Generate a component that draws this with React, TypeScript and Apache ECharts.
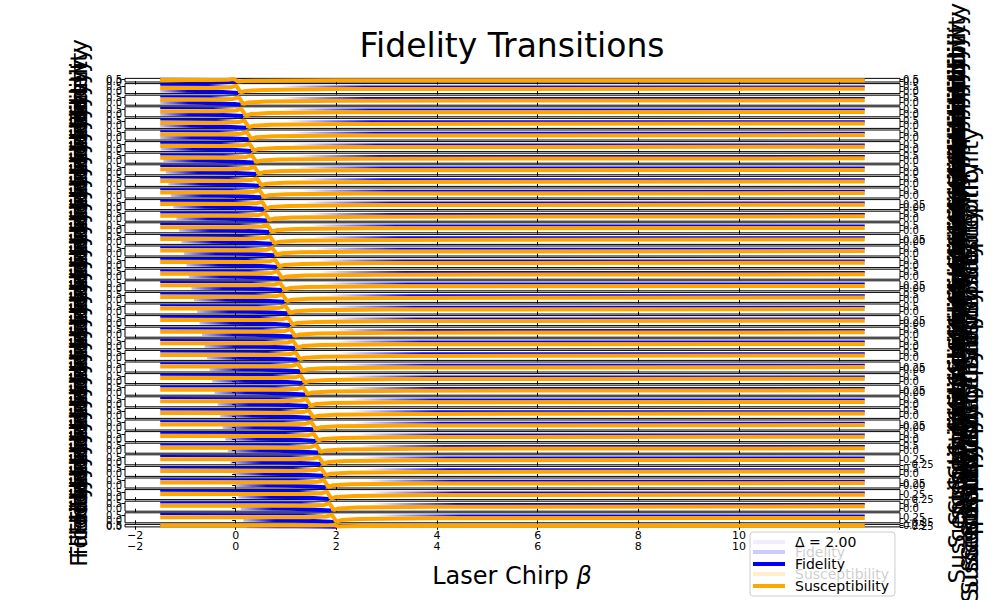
import { useEffect, useRef } from 'react';
import * as echarts from 'echarts';

const FONT = 'DejaVu Sans';

// x axis
const betaStart = -1.5;
const betaEnd = 12.5;
const xTicks = [-2, 0, 2, 4, 6, 8, 10, 12];
const xLabels = [-2, 0, 2, 4, 6, 8, 10];

// y ticks
const leftTicks = [0, 0.5];
const rightTickSets: Record<string, number[]> = {
  a: [0, 0.5],
  b: [0, 0.25],
  c: [-0.25, 0.25],
};

// where the susceptibility dip sits in every panel (top to bottom)
const transitionBeta = [
  0.0, 0.05, 0.1, 0.15, 0.21, 0.26, 0.31, 0.36, 0.41, 0.46,
  0.51, 0.56, 0.62, 0.67, 0.72, 0.77, 0.82, 0.87, 0.92, 0.97,
  1.03, 1.08, 1.13, 1.18, 1.23, 1.28, 1.33, 1.38, 1.44, 1.49,
  1.54, 1.59, 1.64, 1.69, 1.74, 1.79, 1.85, 1.9, 1.95, 2.0,
];

// tick set used on the right axis of each panel
const rightKind = [
  'a', 'a', 'a', 'a', 'a', 'a', 'a', 'a', 'a', 'a',
  'a', 'b', 'a', 'a', 'b', 'a', 'a', 'a', 'b', 'a',
  'a', 'b', 'a', 'a', 'a', 'b', 'a', 'b', 'a', 'a',
  'b', 'a', 'a', 'c', 'a', 'b', 'c', 'a', 'c', 'c',
];

// curve shapes, as offsets from the dip and values
const topOffsets = [-99, -0.3, 0.6, 99];
const topValues = [0.63, 0.6, 0.47, 0.47];
const lowOffsets = [-1.8, -0.8, -0.3, 0];
const lowValues = [0.06, 0.0, -0.1, -0.18];
const susOffsets = [-99, -0.5, -0.15, -0.04, 0.05, 0.15, 0.5, 2.0, 99];
const susValues = [0.3, 0.3, 0.38, 0.55, -0.12, 0.02, 0.12, 0.2, 0.24];

const legendNames: Record<string, string> = {
  delta: 'Δ = 2.00',
  fid: 'Fidelity',
  sus: 'Susceptibility',
};

const clampBeta = (b: number) => Math.min(betaEnd, Math.max(betaStart, b));
const shape = (bc: number, offs: number[], vals: number[]) =>
  offs.map((o, k) => [clampBeta(bc + o), vals[k]]);

const minus = (v: number, d: number) =>
  (v < 0 ? '\u2212' : '') + Math.abs(v).toFixed(d);

export default function App() {
  const ref = useRef<HTMLDivElement>(null);

  useEffect(() => {
    if (!ref.current) return;
    const chart = echarts.init(ref.current, undefined, { renderer: 'svg' });

    const n = transitionBeta.length;
    const span = betaEnd - betaStart;
    const frac = (b: number) => Math.min(1, Math.max(0, (b - betaStart) / span));
    const blank = 'rgba(0,0,255,0)';
    const grids: any[] = [];
    const xAxes: any[] = [];
    const yAxes: any[] = [];
    const series: any[] = [];

    // one y axis per tick, so that the crowded labels are all kept
    const yAxisFor = (i: number, side: string, tick: number, digits: number, name?: string, gap?: number) => ({
      gridIndex: i,
      type: 'value',
      position: side,
      min: -0.25,
      max: 0.75,
      axisLine: { show: false },
      axisTick: { show: true, length: 3.5, customValues: [tick], lineStyle: { color: '#000' } },
      axisLabel: {
        customValues: [tick],
        margin: 3,
        fontSize: 10,
        fontFamily: FONT,
        color: '#000',
        formatter: (v: number) => minus(v, digits),
      },
      splitLine: { show: false },
      name: name ?? '',
      nameLocation: 'middle',
      nameRotate: 90,
      nameGap: gap ?? 0,
      nameTextStyle: { fontSize: 23, fontFamily: FONT, color: '#000' },
    });

    transitionBeta.forEach((bc, i) => {
      const last = i === n - 1;
      grids.push({
        left: 125,
        right: 100,
        top: 72 + i * 11.6,
        height: 10,
        show: true,
        borderColor: '#000',
        borderWidth: 1,
        backgroundColor: '#fff',
      });
      xAxes.push({
        gridIndex: i,
        type: 'value',
        position: 'bottom',
        min: -2.2,
        max: 13.2,
        axisLine: { show: false },
        axisTick: { show: true, length: 3.5, customValues: xTicks, lineStyle: { color: '#000' } },
        axisLabel: {
          show: last,
          customValues: xLabels,
          margin: 3,
          fontSize: 11,
          fontFamily: FONT,
          color: '#000',
          formatter: (v: number) => minus(v, 0),
        },
        splitLine: { show: false },
      });
      const rt = rightTickSets[rightKind[i]];
      const rd = rt === rightTickSets.a ? 1 : 2;
      yAxes.push(yAxisFor(i, 'left', leftTicks[0], 1, 'Fidelity', 35));
      yAxes.push(yAxisFor(i, 'left', leftTicks[1], 1));
      yAxes.push(yAxisFor(i, 'right', rt[0], rd, 'Susceptibility', rd === 1 ? 45 : 58));
      yAxes.push(yAxisFor(i, 'right', rt[1], rd));

      const topGrad = new echarts.graphic.LinearGradient(0, 0, 1, 0, [
        { offset: 0, color: '#0000ff' },
        { offset: frac(bc - 0.6), color: '#0000ff' },
        { offset: frac(bc - 0.15), color: blank },
        { offset: frac(bc + 0.8), color: blank },
        { offset: frac(bc + 2.5), color: '#0000ff' },
        { offset: 1, color: '#0000ff' },
      ]);
      const lowGrad = new echarts.graphic.LinearGradient(0, 0, 1, 0, [
        { offset: 0, color: 'rgba(0,0,255,0.25)' },
        { offset: 0.35, color: '#0000ff' },
        { offset: 1, color: '#0000ff' },
      ]);
      const common = {
        type: 'line',
        xAxisIndex: i,
        showSymbol: false,
        symbol: 'none',
        silent: true,
        clip: true,
      };
      series.push({
        ...common,
        name: 'fid',
        yAxisIndex: 4 * i,
        data: shape(bc, lowOffsets, lowValues),
        itemStyle: { color: '#0000ff' },
        lineStyle: { color: lowGrad, width: 4 },
      });
      series.push({
        ...common,
        name: 'fid',
        yAxisIndex: 4 * i,
        data: shape(bc, topOffsets, topValues),
        itemStyle: { color: '#0000ff' },
        lineStyle: { color: topGrad, width: 2 },
      });
      series.push({
        ...common,
        name: 'sus',
        yAxisIndex: 4 * i + 2,
        data: shape(bc, susOffsets, susValues),
        itemStyle: { color: '#ffa500' },
        lineStyle: { color: '#ffa500', width: 4 },
      });
    });

    // legend-only entry of the last panel
    series.push({
      type: 'line',
      name: 'delta',
      xAxisIndex: n - 1,
      yAxisIndex: 4 * (n - 1),
      data: [],
      itemStyle: { color: '#eeeeff' },
      lineStyle: { color: '#eeeeff' },
    });

    const legendBase = {
      left: 750,
      orient: 'vertical',
      icon: 'rect',
      itemWidth: 32,
      itemHeight: 4,
      itemGap: 8,
      padding: [3, 6, 3, 3],
      selectedMode: false,
      textStyle: {
        fontSize: 14,
        lineHeight: 14,
        fontFamily: FONT,
        color: '#000',
        padding: [0, 0, 0, 5],
      },
      formatter: (name: string) => legendNames[name] ?? name,
    };

    chart.setOption({
      animation: false,
      backgroundColor: '#fff',
      textStyle: { fontFamily: FONT },
      grid: grids,
      xAxis: [
        ...xAxes,
        {
          gridIndex: n - 1,
          type: 'value',
          position: 'bottom',
          min: -2.2,
          max: 13.2,
          axisLine: { show: false },
          axisTick: { show: false },
          axisLabel: {
            customValues: xLabels,
            margin: 14,
            fontSize: 11,
            fontFamily: FONT,
            color: '#000',
            formatter: (v: number) => minus(v, 0),
          },
          splitLine: { show: false },
        },
      ],
      yAxis: yAxes,
      series,
      legend: [
        {
          // legend of the panel above, showing through
          ...legendBase,
          top: 542,
          z: 3,
          data: [
            { name: 'fid', itemStyle: { color: '#0000ff' } },
            { name: 'sus', itemStyle: { color: '#ffa500' } },
          ],
        },
        {
          ...legendBase,
          top: 532,
          z: 4,
          backgroundColor: 'rgba(255,255,255,0.8)',
          borderColor: '#cccccc',
          borderWidth: 1,
          borderRadius: 3,
          data: [
            { name: 'delta', itemStyle: { color: '#eeeeff' } },
            { name: 'fid', itemStyle: { color: '#0000ff' } },
            { name: 'sus', itemStyle: { color: '#ffa500' } },
          ],
        },
      ],
      graphic: [
        {
          type: 'text',
          x: 512,
          y: 29,
          style: {
            text: 'Fidelity Transitions',
            fontSize: 33,
            fontFamily: FONT,
            fill: '#000',
            textAlign: 'center',
            textVerticalAlign: 'top',
          },
        },
        {
          type: 'text',
          x: 512,
          y: 576,
          style: {
            text: '{n|Laser Chirp }{b|β}',
            fontSize: 24,
            fontFamily: FONT,
            fill: '#000',
            textAlign: 'center',
            textVerticalAlign: 'middle',
            rich: {
              n: { fontSize: 24, fontFamily: FONT },
              b: { fontSize: 24, fontFamily: FONT, fontStyle: 'italic' },
            },
          },
        },
      ],
    });

    return () => chart.dispose();
  }, []);

  return (
    <div
      ref={ref}
      style={{ position: 'fixed', left: 0, top: 0, width: 1000, height: 600 }}
    />
  );
}
